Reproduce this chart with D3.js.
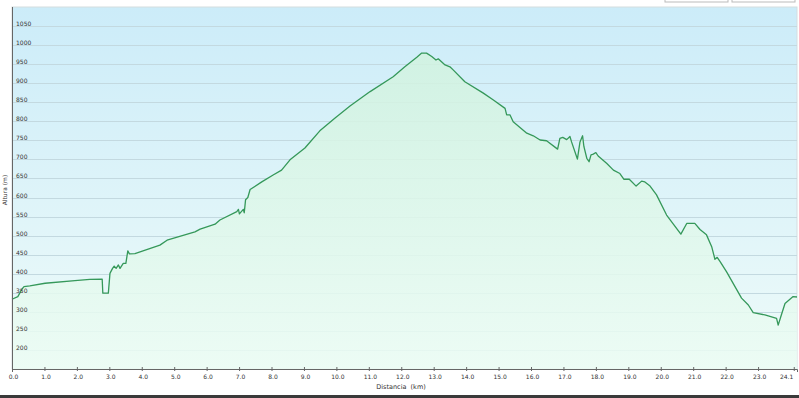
<!DOCTYPE html>
<html>
<head>
<meta charset="utf-8">
<script src="https://cdn.jsdelivr.net/npm/d3@7"></script>
<style>
  body { margin: 0; background: #fff; }
  svg { display: block; font-family: "DejaVu Sans", Verdana, sans-serif; }
</style>
</head>
<body>
<div id="chart"></div>
<script>
// elevation profile
var distKm = [0.0, 0.18, 0.31, 0.37, 0.55, 1.02, 1.94, 2.40, 2.78, 2.80, 2.97, 3.02, 3.10, 3.15, 3.21, 3.28, 3.33, 3.43, 3.51, 3.57, 3.62, 3.79,
  4.56, 4.78, 5.64, 5.80, 6.26, 6.41, 6.93, 6.98, 7.01, 7.13, 7.16, 7.20, 7.27, 7.34, 7.70, 8.05, 8.31, 8.57, 9.03, 9.49, 9.96,
  10.42, 11.04, 11.75, 12.11, 12.48, 12.63, 12.78, 12.94, 13.07, 13.14, 13.35, 13.50, 13.60, 13.96, 14.53, 14.84, 15.20, 15.25,
  15.35, 15.45, 15.87, 16.07, 16.28, 16.48, 16.82, 16.89, 16.98, 17.10, 17.20, 17.25, 17.43, 17.51, 17.59, 17.63, 17.72, 17.79,
  17.85, 17.92, 18.00, 18.07, 18.33, 18.54, 18.74, 18.86, 19.03, 19.24, 19.41, 19.51, 19.67, 19.87, 20.18, 20.62, 20.80, 21.05,
  21.21, 21.41, 21.57, 21.67, 21.74, 21.83, 22.03, 22.49, 22.70, 22.85, 23.21, 23.57, 23.62, 23.70, 23.83, 24.08, 24.2];
var altM = [333, 340, 360, 366, 368, 375, 382, 385, 386, 349, 349, 401, 414, 420, 414, 423, 414, 427, 427, 460, 452, 453,
  475, 488, 510, 517, 530, 541, 563, 569, 557, 569, 560, 594, 600, 621, 641, 659, 672, 699, 730, 775, 809,
  840, 878, 917, 943, 968, 979, 979, 970, 961, 964, 948, 943, 935, 904, 874, 856, 834, 817,
  817, 799, 769, 762, 751, 749, 727, 755, 758, 752, 760, 746, 701, 746, 762, 734, 703, 694,
  712, 714, 718, 709, 690, 672, 663, 648, 648, 630, 643, 641, 630, 607, 554, 504, 532, 532,
  516, 502, 471, 438, 443, 432, 405, 336, 318, 298, 292, 283, 265, 287, 322, 340, 339];

var yTicks = d3.range(200, 1051, 50);
var xTicks = d3.range(0, 24).concat([24.1]);

var svgWidth = 799;
var svgHeight = 398;
var plot = { left: 12, right: 797, top: 7, bottom: 369 };

var svg = d3.select("#chart")
  .append("svg")
  .attr("width", svgWidth)
  .attr("height", svgHeight);

var x = d3.scaleLinear().domain([0, 24.2]).range([plot.left, plot.right]);
var y = d3.scaleLinear().domain([150, 1100]).range([plot.bottom, plot.top]);

var defs = svg.append("defs");
var bg = defs.append("linearGradient").attr("id", "bg")
  .attr("gradientUnits", "userSpaceOnUse")
  .attr("x1", 0).attr("y1", plot.top).attr("x2", 0).attr("y2", plot.bottom);
bg.append("stop").attr("offset", "0%").attr("stop-color", "#ccecf9");
bg.append("stop").attr("offset", "100%").attr("stop-color", "#eefbf9");

var areaFill = defs.append("linearGradient").attr("id", "areaFill")
  .attr("gradientUnits", "userSpaceOnUse")
  .attr("x1", 0).attr("y1", plot.top).attr("x2", 0).attr("y2", plot.bottom);
areaFill.append("stop").attr("offset", "0%").attr("stop-color", "#cdf1dc");
areaFill.append("stop").attr("offset", "100%").attr("stop-color", "#ecfcf4");

// little buttons at the top right and dark strip at the bottom
svg.append("rect").attr("x", 665).attr("y", -2).attr("width", 63).attr("height", 4)
  .attr("fill", "#fff").attr("stroke", "#bbb");
svg.append("rect").attr("x", 732).attr("y", -2).attr("width", 63).attr("height", 4)
  .attr("fill", "#fff").attr("stroke", "#bbb");
svg.append("rect").attr("x", 0).attr("y", 395).attr("width", svgWidth).attr("height", 3)
  .attr("fill", "#3a3a3a");

svg.append("rect")
  .attr("x", plot.left).attr("y", plot.top)
  .attr("width", plot.right - plot.left).attr("height", plot.bottom - plot.top)
  .attr("fill", "url(#bg)")
  .attr("stroke", "#d4dde0");

// gridlines
svg.append("g").selectAll("line")
  .data(yTicks)
  .enter()
  .append("line")
  .attr("x1", plot.left).attr("x2", plot.right)
  .attr("y1", d => Math.round(y(d)) + 0.5).attr("y2", d => Math.round(y(d)) + 0.5)
  .attr("stroke", "#c3d9e0")
  .attr("stroke-width", 1.2);

var pts = distKm.map((d, i) => [d, altM[i]]);

svg.append("path")
  .datum(pts)
  .attr("fill", "url(#areaFill)")
  .attr("fill-opacity", 0.85)
  .attr("d", d3.area().x(d => x(d[0])).y0(plot.bottom).y1(d => y(d[1])));

svg.append("path")
  .datum(pts)
  .attr("fill", "none")
  .attr("stroke", "#35985a")
  .attr("stroke-width", 1.3)
  .attr("stroke-linejoin", "round")
  .attr("d", d3.line().x(d => x(d[0])).y(d => y(d[1])));

// y labels sit inside the plot, just above each gridline
svg.append("g").selectAll("text")
  .data(yTicks)
  .enter()
  .append("text")
  .attr("x", 16)
  .attr("y", d => Math.round(y(d)) - 0.5)
  .attr("font-size", 6)
  .attr("fill", "#333")
  .text(d => d);

// axes
var bottomAxis = d3.axisBottom(x)
  .tickValues(xTicks)
  .tickSize(3)
  .tickFormat(d3.format(".1f"));

var xg = svg.append("g")
  .attr("transform", `translate(0, ${plot.bottom})`)
  .call(bottomAxis);
xg.select(".domain").attr("stroke", "#666");
xg.selectAll(".tick line").attr("stroke", "#666").attr("y1", -2).attr("y2", 2);
xg.selectAll(".tick text")
  .attr("y", 6)
  .attr("x", 1)
  .attr("font-size", 6)
  .attr("font-family", "DejaVu Sans")
  .attr("fill", "#333");
// last label (24.1) is pulled left so it stays inside the frame
xg.selectAll(".tick text")
  .filter(d => d === 24.1)
  .attr("text-anchor", "end")
  .attr("x", -1);

svg.append("line")
  .attr("x1", plot.left + 0.5).attr("x2", plot.left + 0.5)
  .attr("y1", plot.top).attr("y2", plot.bottom)
  .attr("stroke", "#666");

svg.append("text")
  .attr("x", 401)
  .attr("y", 389)
  .attr("text-anchor", "middle")
  .attr("font-size", 6.5)
  .attr("fill", "#333")
  .attr("xml:space", "preserve")
  .text("Distancia  (km)");

svg.append("text")
  .attr("transform", "translate(7, 190) rotate(-90)")
  .attr("text-anchor", "middle")
  .attr("font-size", 6)
  .attr("fill", "#333")
  .text("Altura (m)");
</script>
</body>
</html>
